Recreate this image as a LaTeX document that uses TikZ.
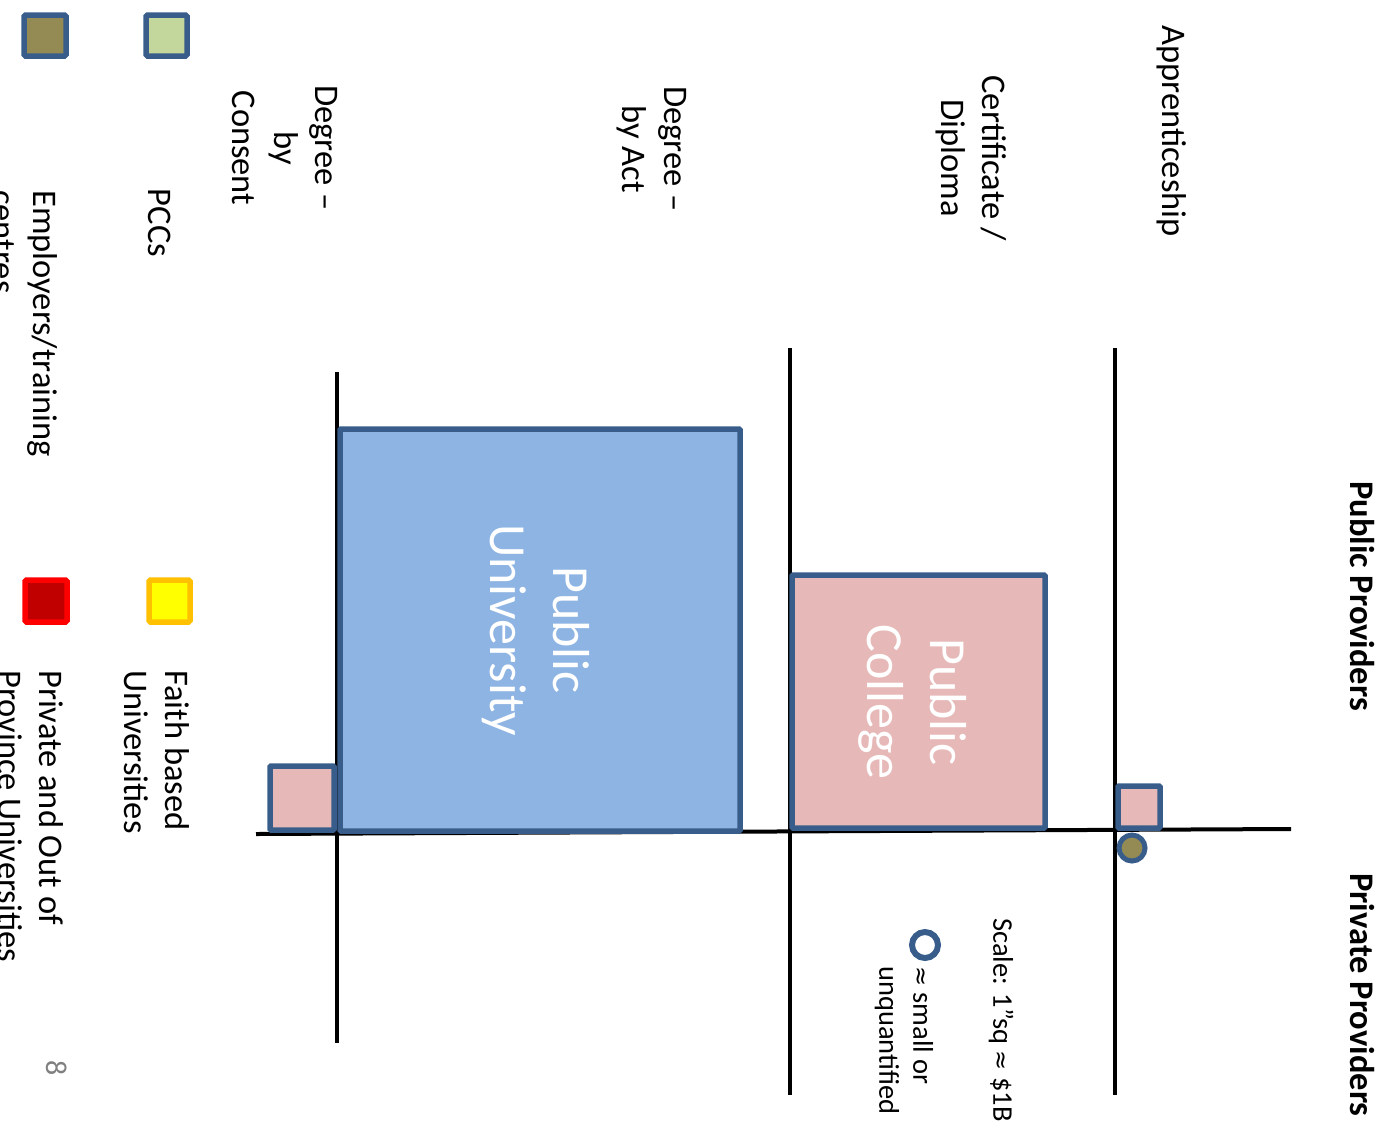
\documentclass[tikz,border=0pt]{standalone}
\usepackage{fontspec}
\setmainfont{Carlito}
\newfontfamily\symfont{DejaVu Sans}
\definecolor{bordb}{HTML}{385D8A}
\definecolor{univblue}{HTML}{8EB4E3}
\definecolor{collpink}{HTML}{E6B9B8}
\definecolor{olive}{HTML}{948A54}
\definecolor{pccgreen}{HTML}{C3D69B}
\definecolor{faithyel}{HTML}{FFFF00}
\definecolor{faithbord}{HTML}{FFC000}
\definecolor{privred}{HTML}{C00000}
\definecolor{privbord}{HTML}{FF0000}
\begin{document}
\begin{tikzpicture}[x=1bp,y=-1bp,
  lab/.style={rotate=-90, inner sep=0pt, font=\fontsize{34.5bp}{41.5bp}\selectfont},
  boldlab/.style={rotate=-90, inner sep=0pt, font=\fontsize{34.5bp}{41.5bp}\selectfont\bfseries},
  bigw/.style={rotate=-90, inner sep=0pt, align=center, text=white, font=\fontsize{52bp}{63bp}\selectfont},
  smalllab/.style={rotate=-90, inner sep=0pt, font=\fontsize{28.5bp}{34bp}\selectfont},
  axisline/.style={line width=4bp, black},
  box/.style={draw=bordb, line width=5.5bp, rounded corners=1bp},
  legbox/.style={line width=5.5bp, rounded corners=1.5bp}]
\useasboundingbox (0,0) rectangle (1389,1147);
\clip (0,0) rectangle (1389,1147);
% axes
\coordinate (hL) at (256,834);
\coordinate (hR) at (1291,829);
\coordinate (v1t) at (337,372);
\coordinate (v1b) at (337,1043);
\coordinate (v2t) at (790,348);
\coordinate (v2b) at (790,1095);
\coordinate (v3t) at (1115,348);
\coordinate (v3b) at (1115,1095);
\draw[axisline] (hL) -- (hR);
\draw[axisline] (v1t) -- (v1b);
\draw[axisline] (v2t) -- (v2b);
\draw[axisline] (v3t) -- (v3b);
% boxes
\draw[box, fill=univblue] (340,429) rectangle (740,831);
\draw[box, fill=collpink] (792,575) rectangle (1045,828);
\draw[box, fill=collpink] (270,766) rectangle (334,830);
\draw[box, fill=collpink] (1118,786) rectangle (1160,828);
\draw[draw=bordb, line width=5bp, fill=olive] (1132,848) circle (13bp);
% legend squares
\draw[legbox, draw=bordb, fill=olive] (24,15) rectangle (66,56);
\draw[legbox, draw=bordb, fill=pccgreen] (146,15) rectangle (187,56);
\draw[legbox, draw=faithbord, fill=faithyel] (149,580) rectangle (190,622);
\draw[legbox, draw=privbord, fill=privred] (25,580) rectangle (67,622);
% row labels
\node[lab] (appr) at (1172,131) {Apprenticeship};
\node[lab, align=center] (cert) at (971,158) {Certificate /\\Diploma};
\node[lab, align=center] (dact) at (652,149) {Degree –\\by Act};
\node[lab, align=center] (dcons) at (285,148) {Degree –\\by\\Consent};
\node[lab] (pccs) at (160,223) {PCCs};
\node[lab, align=left, anchor=west] (emp) at (25,190) {Employers/training\\centres};
\node[lab, align=left, anchor=west] (faith) at (157,670) {Faith based\\Universities};
\node[lab, align=left, anchor=west] (priv) at (31,670) {Private and Out of\\Province Universities};
% column headings
\node[boldlab] (pubp) at (1362,596) {Public Providers};
\node[boldlab] (privp) at (1362,995) {Private Providers};
% box texts
\node[bigw] (pc) at (913,702) {Public\\College};
\node[bigw] (pu) at (536,630) {Public\\University};
% scale
\node[smalllab, anchor=west] (scale) at (1001,918) {Scale: 1”sq {\symfont\fontsize{24bp}{34bp}\selectfont ≈} \$1B};
\draw[draw=bordb, line width=6bp] (925,945) circle (13bp);
\node[smalllab, align=left, anchor=west] (small) at (904,966) {{\symfont\fontsize{24bp}{34bp}\selectfont ≈} small or\\unquantified};
% page number
\node[rotate=-90, inner sep=0pt, text=gray, font=\fontsize{30bp}{36bp}\selectfont] (pg) at (57,1068) {8};
\end{tikzpicture}
\end{document}
